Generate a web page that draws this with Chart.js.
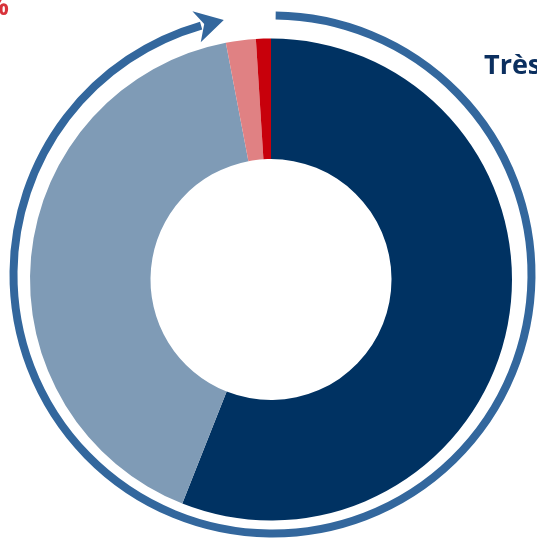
<!DOCTYPE html>
<html>
<head>
<meta charset="utf-8">
<script src="https://cdn.jsdelivr.net/npm/chart.js@4.4.1/dist/chart.umd.min.js"></script>
<style>
  html, body { margin: 0; padding: 0; background: #fff; overflow: hidden; }
  #wrap { width: 537px; height: 545px; }
</style>
</head>
<body>
<div id="wrap"><canvas id="c" width="537" height="545"></canvas></div>
<script>
// slices, clockwise from 12 o'clock
const labels = ["Très satisfaits", "Plutôt satisfaits", "Plutôt pas satisfaits", "Pas du tout satisfaits"];
const values = [56, 41, 2, 1];
const colors = ["#003262", "#7f9bb6", "#e08183", "#c8000b"];

const ringColor = "#33679d";

// circular arrow around the doughnut + the clipped labels at the edges
const decor = {
  id: "decor",
  afterDatasetsDraw(chart) {
    const ctx = chart.ctx;
    const arc = chart.getDatasetMeta(0).data[0];
    if (!arc) return;
    const cx = arc.x + 1.5, cy = arc.y - 5;
    const R = arc.outerRadius + 18;
    const deg = Math.PI / 180;
    const a0 = -89.3 * deg, a1 = 254 * deg, at = 258.5 * deg;

    ctx.save();
    ctx.strokeStyle = ringColor;
    ctx.lineWidth = 8;
    ctx.lineCap = "butt";
    ctx.beginPath();
    ctx.arc(cx, cy, R, a0, a1, false);
    ctx.stroke();

    // arrow head
    const tx = cx + R * Math.cos(at), ty = cy + R * Math.sin(at);
    const f = [-Math.sin(at), Math.cos(at)];
    const n = [Math.cos(at), Math.sin(at)];
    const p = (df, dn) => [tx + f[0] * df + n[0] * dn, ty + f[1] * df + n[1] * dn];
    const pts = [p(3, 0), p(-26, 15), p(-17, 0), p(-24, -17)];
    ctx.fillStyle = ringColor;
    ctx.beginPath();
    ctx.moveTo(pts[0][0], pts[0][1]);
    for (let i = 1; i < pts.length; i++) ctx.lineTo(pts[i][0], pts[i][1]);
    ctx.closePath();
    ctx.fill();

    // labels cut by the edge of the picture
    ctx.font = "bold 27px 'Open Sans'";
    ctx.fillStyle = "#0b2f5f";
    ctx.textAlign = "left";
    ctx.textBaseline = "alphabetic";
    ctx.fillText("Très satisfaits", 484, 74);

    ctx.font = "bold 26px 'Open Sans'";
    ctx.fillStyle = "#d8333a";
    ctx.textAlign = "right";
    ctx.fillText("1%", 9, 15);
    ctx.restore();
  }
};

new Chart(document.getElementById("c"), {
  type: "doughnut",
  data: {
    labels: labels,
    datasets: [{
      data: values,
      backgroundColor: colors,
      hoverBackgroundColor: colors,
      borderWidth: 0
    }]
  },
  options: {
    responsive: false,
    animation: false,
    cutout: "50%",
    layout: { padding: { left: 30, right: 25, top: 38, bottom: 24 } },
    plugins: {
      legend: { display: false },
      tooltip: { enabled: false },
      title: { display: false }
    }
  },
  plugins: [decor]
});
</script>
</body>
</html>
